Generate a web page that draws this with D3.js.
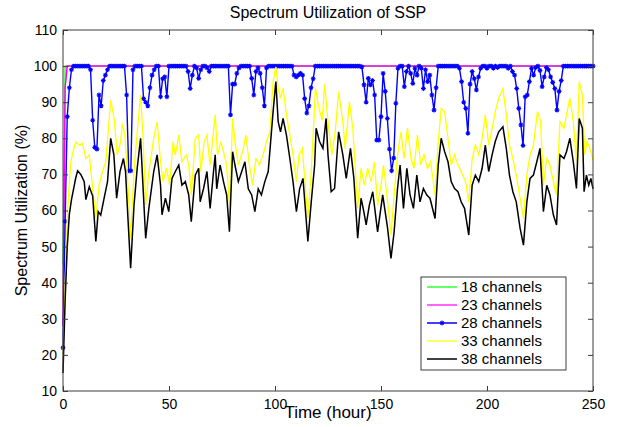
<!DOCTYPE html>
<html>
<head>
<meta charset="utf-8">
<script src="https://cdn.jsdelivr.net/npm/d3@7"></script>
<style>
html,body{margin:0;padding:0;background:#fff;}
svg{display:block;font-family:Arial,"Liberation Sans",sans-serif;}
</style>
</head>
<body>
<svg id="chart" width="618" height="427"></svg>
<script>
// ---------- data ----------
const xTicks = [0, 50, 100, 150, 200, 250];
const yTicks = [10, 20, 30, 40, 50, 60, 70, 80, 90, 100, 110];
const seriesNames = ["18 channels", "23 channels", "28 channels", "33 channels", "38 channels"];

const green18Time = [0, 1, 250];
const green18Values = [45, 100, 100];

const magenta23Time = [0, 1, 2, 250];
const magenta23Values = [28, 94, 100, 100];

// 28 channels: one value per hour, t = 0..250
const blue28Values = [
  22, 57, 86, 94, 99, 100, 100, 100, 100, 100,
  100, 100, 100, 99, 85, 77.5, 77, 92, 89, 96,
  97.5, 99, 100, 100, 100, 100, 100, 100, 100, 100,
  92, 71, 71, 99, 100, 100, 100, 100, 91, 90,
  89, 94, 97.5, 99, 100, 100, 91.5, 96.5, 97, 91.5,
  100, 100, 100, 100, 100, 100, 100, 100, 100, 98.5,
  93.8, 97.5, 100, 99.5, 96.6, 99, 100, 100, 99.5, 98.5,
  100, 100, 100, 100, 100, 100, 100, 100, 100, 86.5,
  95, 95, 98, 99.5, 100, 100, 100, 100, 100, 96.6,
  92, 98.5, 99.5, 98, 94, 89, 99.5, 100, 100, 100,
  100, 100, 100, 100, 100, 100, 100, 100, 100, 97.5,
  97, 97.5, 98, 97.5, 91, 87, 89, 94, 96.5, 100,
  100, 100, 100, 100, 100, 100, 100, 100, 100, 100,
  100, 100, 100, 100, 100, 100, 100, 100, 100, 100,
  100, 99.8, 94.8, 90, 96.6, 94.8, 96, 92, 79.5, 79.5,
  86, 98, 93, 85.5, 77, 71, 74.5, 89.7, 99.4, 100,
  100, 94.3, 98.5, 100, 98, 95.2, 99.4, 97.5, 100, 99.4,
  93.8, 99, 95.7, 97.5, 92, 87.8, 94, 100, 100, 100,
  100, 100, 100, 100, 100, 100, 100, 99.4, 95.7, 90,
  88.3, 81.4, 95, 98.5, 96.5, 93.4, 97, 99.4, 100, 100,
  99.4, 100, 100, 99.4, 100, 99.6, 100, 100, 100, 100,
  99.4, 100, 98.5, 97.5, 93.8, 88.3, 83.7, 78, 91.5, 92,
  95.7, 99.4, 97.5, 99.6, 100, 98.8, 94.3, 97, 99.6, 99,
  97, 95.5, 93.8, 87.8, 93, 96, 100, 100, 100, 100,
  100, 100, 100, 100, 100, 100, 100, 100, 100, 100,
  100
];

const yellow33Time = [0,1,2,3,3.7,5,6.1,7.7,9.2,10.8,12.4,14,15.5,17,18.6,20.2,22.5,24.1,25.6,27.2,28,29.2,30.3,31.9,33.5,35,36.6,37.8,39,40.5,42.8,44.4,46,47.2,48.8,50.3,51.9,53,54.6,56.1,58.2,59.3,60.5,62.4,64,65,66.6,67.9,69.4,70.5,71.8,72.9,74.4,75.7,77.2,78.5,80,81.1,82.7,84.7,86.3,87.9,89.4,91,92.6,94.4,96,97.6,99.1,100.4,101.5,102.6,103.8,105.4,107,108.5,110.1,111.3,112.9,115.5,117.1,119.1,120.7,122.3,123.4,125,126.8,128.4,130,132,133.1,135.1,136.7,139,140.6,142.2,143.7,145.3,146.9,148.4,150,151.2,153.1,154.7,156.2,157.8,159.4,160.9,162.5,164.1,165.6,167.2,168.7,170.3,171.9,173.4,175.5,177,178.4,180,181.6,183.1,184.7,186.3,187.8,189.9,191.4,193,194.5,196.1,197.7,199.2,200.8,202.4,203.9,205.5,207.5,209.1,210.6,212.2,213.8,215.6,217.2,218.8,220.3,221.9,223.8,225.3,226.6,228.2,229.7,231.3,232.8,234.4,236.3,237.5,239.1,240.7,242.2,243.5,245,246.1,247.2,248.5,250];
const yellow33Values = [20,40,58,68,73.5,77,79,78.1,78.6,74.4,75.4,66.1,57.8,67,70.8,73.5,90.6,85.5,75.4,79.1,84.1,80.9,70.8,52.3,70.8,81.8,92,80,61.5,70.8,80,84.6,73.5,68,71.7,67,79.1,75.4,80.9,73.5,75.4,72.6,64.3,80,80.9,70.8,79.1,80.9,72.6,79.1,86.5,75.4,79.1,76.3,72.6,61.5,85.5,79.1,72.6,76.3,80.9,72.6,67,74.4,72.6,75.4,79.1,81.8,95.7,99.8,93.8,91.1,93.8,86.5,80.9,75.4,68,75.4,77.2,57.8,70.8,93.8,88.3,85,95,84.6,75.4,81.8,92.9,84.6,77.2,90.1,82.8,60.6,71.7,67,71.7,68,73.5,61.5,67,72.6,62.4,53.2,64.3,75.4,81.8,74.4,82.8,74.4,71.7,80.9,72.6,75.4,71.7,73.5,64.3,79.1,88.3,87.4,80,72.6,75.4,72.6,70.8,68,62.4,74.4,78.1,75.4,80,86.5,78.1,82.8,87.4,91.1,93.8,86.5,78.1,74.4,69.8,63.4,57.8,69.8,75.4,78.1,87.4,84.6,67,74.4,72.6,68,64.3,84.6,82.8,86.5,91.1,84.6,73.5,95.7,92,75.4,79.1,77.2,74];

const black38Time = [0,1,2,3,4,5,6,6.9,8.4,10,10.8,12.4,14,15.5,16.6,17.8,19.4,21,22.5,24,25.3,26.9,28.5,29.5,30.3,31.9,33.5,35,36.6,37.8,39,40.5,42.8,44.4,46,46.7,48.3,49.9,51.4,53,54.6,56.1,57.7,59.3,60.5,62.4,64,64.7,66.3,67.9,69.4,71,71.8,72.5,74.1,75.7,77.2,78.5,80,81.1,82.7,84.3,85.8,87.4,89,90.5,92.1,93.6,95.2,96.8,99.1,100.4,101.5,102.6,103.8,105.4,107,108.5,110.1,111.6,113.2,115.5,117.1,118.7,119.4,121,122.6,124.1,125,126.5,128.1,130,132,133.6,135.6,137.2,139,140.6,141.9,143,144.5,146.1,148.4,150.8,153.1,154.7,156.2,157.8,159,160.6,162.2,163.7,165.3,166.9,168.4,170,171.6,173.1,175.5,177,178.4,180,181.6,183.1,184.7,186.3,187.8,189.4,191.4,193,194.5,196.1,197.7,199.2,200.8,202.4,203.9,205.5,207.5,209.1,210.6,212.2,213.8,215.6,217.2,218.8,220.3,221.9,223.5,225,226.6,228.2,229.7,231.3,232.8,234.4,236.3,237.5,239.1,240.7,242.2,243.5,245,245.8,246.9,248,249,250];
const black38Values = [15,35,50,59,63,66,69,71,70,68,63,66.6,64,51.4,59.7,58.7,63.4,68,80,75.4,63.4,70.8,74.4,70.8,61.5,44,61.5,71.7,80,66,52.3,60.6,70.8,75.4,67,58.8,63.4,59.7,68.9,70.8,72.6,67,68,64.3,56.9,69.8,71.7,62.4,66.1,70.8,60.6,70.8,75.4,66,72.6,68,64.3,54.1,76.3,72.6,68,70.8,73.5,66,64.3,59.7,66,64.3,68,70.8,87.4,95.7,84.6,81.8,85.5,80.9,74.4,68,59.7,66,68.9,51.4,62.4,72.6,82.8,79.1,77.2,85.5,75.4,65.2,66.1,81.8,75.4,68.9,77.2,68.9,52.3,63.4,59.7,56,61.5,65.2,54.1,64.3,55.1,46.7,54.1,66.1,72.6,60.6,71.7,64.3,60.6,69.8,62.4,66.1,64.3,63.4,57.8,72.6,80,76.3,73.5,68,66.1,65.2,62.4,60.6,53.2,67,69.8,68,71.7,78.1,70.8,75.4,79.1,81.8,83.2,77.2,69.8,65.2,62.4,55.1,50.4,62.4,68.9,69.8,73.5,77.2,59.7,67,64.3,58.8,56,75.4,74.4,76.3,80,73.5,66.1,85.5,82.8,65.2,69.8,67,68.9,66];

// ---------- layout ----------
const svg = d3.select("#chart");
const W = 618, H = 427;
const m = {left: 63, right: 593, top: 30, bottom: 391};
const x = d3.scaleLinear().domain([0, 250]).range([m.left, m.right]);
const y = d3.scaleLinear().domain([10, 110]).range([m.bottom, m.top]);

svg.append("rect").attr("width", W).attr("height", H).attr("fill", "#ffffff");
svg.append("rect").attr("x", m.left).attr("y", m.top)
  .attr("width", m.right - m.left).attr("height", m.bottom - m.top).attr("fill", "#ffffff");

// ---------- series ----------
const line = d3.line().x(d => x(d[0])).y(d => y(d[1]));
const zipT = (t, v) => t.map((tt, i) => [tt, v[i]]);
const blueData = blue28Values.map((v, i) => [i, v]);

const plot = svg.append("g");
plot.append("path").datum(zipT(green18Time, green18Values))
  .attr("d", line).attr("fill", "none").attr("stroke", "#00ff00").attr("stroke-width", 1.2);
plot.append("path").datum(zipT(magenta23Time, magenta23Values))
  .attr("d", line).attr("fill", "none").attr("stroke", "#ff00ff").attr("stroke-width", 1.5);
plot.append("path").datum(blueData)
  .attr("d", line).attr("fill", "none").attr("stroke", "#0000ff").attr("stroke-width", 1.4);

const starPath = r => `M${-r},0H${r}M0,${-r}V${r}M${-r*0.7},${-r*0.7}L${r*0.7},${r*0.7}M${-r*0.7},${r*0.7}L${r*0.7},${-r*0.7}`;
plot.append("g").selectAll("path").data(blueData).join("path")
  .attr("transform", d => `translate(${x(d[0])},${y(d[1])})`)
  .attr("d", starPath(2.4)).attr("fill", "none").attr("stroke", "#0000ff").attr("stroke-width", 1.1);

plot.append("path").datum(zipT(yellow33Time, yellow33Values))
  .attr("d", line).attr("fill", "none").attr("stroke", "#ffff00").attr("stroke-width", 1.3);
plot.append("path").datum(zipT(black38Time, black38Values))
  .attr("d", line).attr("fill", "none").attr("stroke", "#000000").attr("stroke-width", 1.5);

// ---------- axes ----------
const axisColor = "#3c3c3c";
const tickLen = 5;
const gBottom = svg.append("g").attr("transform", `translate(0,${m.bottom})`)
  .call(d3.axisBottom(x).tickValues(xTicks).tickSize(-tickLen).tickPadding(8).tickSizeOuter(0));
const gTop = svg.append("g").attr("transform", `translate(0,${m.top})`)
  .call(d3.axisTop(x).tickValues(xTicks).tickSize(-tickLen).tickFormat("").tickSizeOuter(0));
const gLeft = svg.append("g").attr("transform", `translate(${m.left},0)`)
  .call(d3.axisLeft(y).tickValues(yTicks).tickSize(-tickLen).tickPadding(6).tickSizeOuter(0));
const gRight = svg.append("g").attr("transform", `translate(${m.right},0)`)
  .call(d3.axisRight(y).tickValues(yTicks).tickSize(-tickLen).tickFormat("").tickSizeOuter(0));
[gBottom, gTop, gLeft, gRight].forEach(g => {
  g.select(".domain").remove();
  g.selectAll("line").attr("stroke", axisColor);
  g.selectAll("text").attr("fill", "#000").attr("font-size", 14)
    .attr("font-family", "Arial, 'Liberation Sans', sans-serif");
});
svg.append("rect").attr("x", m.left).attr("y", m.top)
  .attr("width", m.right - m.left).attr("height", m.bottom - m.top)
  .attr("fill", "none").attr("stroke", axisColor).attr("stroke-width", 1);

// ---------- titles ----------
svg.append("text").attr("x", (m.left + m.right) / 2).attr("y", 18)
  .attr("text-anchor", "middle").attr("font-size", 16).text("Spectrum Utilization of SSP");
svg.append("text").attr("x", (m.left + m.right) / 2).attr("y", 418)
  .attr("text-anchor", "middle").attr("font-size", 17).text("Time (hour)");
svg.append("text").attr("transform", `translate(27,${(m.top + m.bottom) / 2}) rotate(-90)`)
  .attr("text-anchor", "middle").attr("font-size", 16).text("Spectrum Utilization (%)");

// ---------- legend ----------
const legendColors = ["#00ff00", "#ff00ff", "#0000ff", "#ffff00", "#000000"];
const lg = svg.append("g");
lg.append("rect").attr("x", 421).attr("y", 277).attr("width", 145).attr("height", 93)
  .attr("fill", "#ffffff").attr("stroke", axisColor).attr("stroke-width", 1);
seriesNames.forEach((name, i) => {
  const yy = 287 + i * 18;
  lg.append("line").attr("x1", 427).attr("x2", 457).attr("y1", yy).attr("y2", yy)
    .attr("stroke", legendColors[i]).attr("stroke-width", i === 2 || i === 4 ? 1.5 : 1.2);
  if (i === 2) {
    lg.append("path").attr("transform", `translate(442,${yy})`).attr("d", starPath(2.4))
      .attr("fill", "none").attr("stroke", "#0000ff").attr("stroke-width", 1.1);
  }
  lg.append("text").attr("x", 461).attr("y", yy + 5).attr("font-size", 15).text(name);
});
</script>
</body>
</html>
